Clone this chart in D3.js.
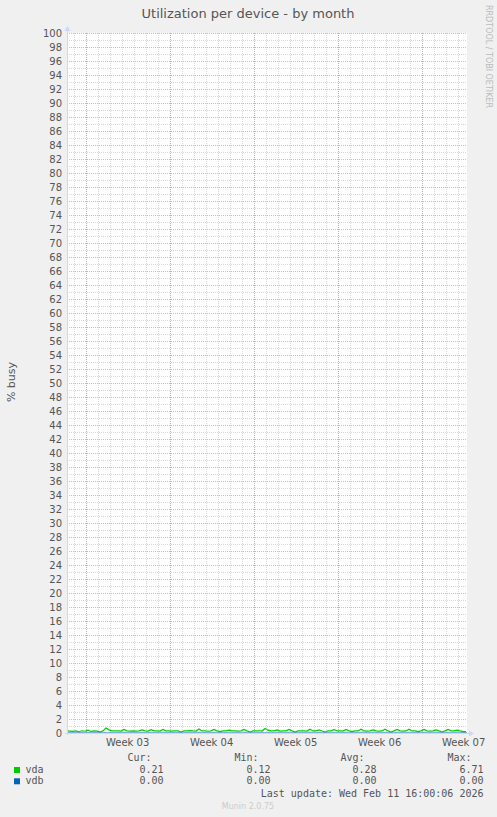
<!DOCTYPE html>
<html>
<head>
<meta charset="utf-8">
<script src="https://cdn.jsdelivr.net/npm/d3@7"></script>
<style>
  html, body { margin: 0; padding: 0; background: #f0f0f0; }
  svg { display: block; }
  text { font-family: "DejaVu Sans", sans-serif; fill: #555; }
  .mono { font-family: "DejaVu Sans Mono", monospace; }
</style>
</head>
<body>
<svg id="chart" width="497" height="817"></svg>
<script>
// graph window (utc)
var startTime = new Date('2026-01-10T10:40:00Z');
var endTime = new Date('2026-02-12T18:40:00Z');
var stepHours = 6;

var yTicks = d3.range(0, 101, 2);
var weekLabels = ['Week 03', 'Week 04', 'Week 05', 'Week 06', 'Week 07'];

// vda busy %, one sample every 6 hours from startTime
var vdaValues = [
  0.30, 0.28, 0.22, 0.30, 0.18, 0.32, 0.25, 0.40, 0.22, 0.30, 0.26, 0.15, 0.30, 0.70, 0.45, 0.30, 0.32,
  0.30, 0.28, 0.50, 0.30, 0.28, 0.30, 0.27, 0.30, 0.45, 0.30, 0.28, 0.48, 0.30, 0.30, 0.28, 0.52, 0.30,
  0.30, 0.28, 0.30, 0.30, 0.15, 0.30, 0.30, 0.35, 0.30, 0.28, 0.58, 0.30, 0.30, 0.25, 0.30, 0.50, 0.30,
  0.20, 0.30, 0.30, 0.42, 0.30, 0.30, 0.28, 0.30, 0.50, 0.30, 0.15, 0.30, 0.30, 0.32, 0.28, 0.65, 0.40,
  0.30, 0.30, 0.45, 0.28, 0.30, 0.30, 0.52, 0.30, 0.15, 0.30, 0.32, 0.30, 0.28, 0.55, 0.30, 0.30, 0.45,
  0.28, 0.15, 0.30, 0.30, 0.48, 0.30, 0.30, 0.28, 0.50, 0.30, 0.20, 0.30, 0.30, 0.55, 0.30, 0.28, 0.30,
  0.45, 0.30, 0.28, 0.30, 0.55, 0.30, 0.15, 0.30, 0.50, 0.30, 0.28, 0.30, 0.55, 0.30, 0.30, 0.20, 0.30,
  0.50, 0.30, 0.28, 0.30, 0.45, 0.30, 0.15, 0.30, 0.52, 0.30, 0.30, 0.40, 0.30, 0.21, 0.21
];
// vdb stays flat at zero
var vdbTimes = [startTime, endTime];
var vdbValues = [0.00, 0.00];

var seriesNames = ['vda', 'vdb'];
var seriesColors = ['#00cc00', '#0066b3'];
var statHeaders = ['Cur:', 'Min:', 'Avg:', 'Max:'];
var statValues = [
  ['0.21', '0.12', '0.28', '6.71'],
  ['0.00', '0.00', '0.00', '0.00']
];
var lastUpdate = 'Last update: Wed Feb 11 16:00:06 2026';

var plotLeft = 67, plotRight = 467, plotTop = 33, plotBottom = 733;
var svg = d3.select('#chart');

var x = d3.scaleUtc().domain([startTime, endTime]).range([plotLeft, plotRight]);
var y = d3.scaleLinear().domain([0, 100]).range([plotBottom, plotTop]);

svg.append('rect')
  .attr('x', plotLeft).attr('y', plotTop)
  .attr('width', plotRight - plotLeft).attr('height', plotBottom - plotTop)
  .attr('fill', '#fff');

var grid = svg.append('g').attr('shape-rendering', 'crispEdges');
var minorColor = '#d8d8d8', majorColor = '#eb9a9a';

// minor grid: every day / every 1 %
grid.selectAll('line.vminor')
  .data(d3.utcDay.range(startTime, endTime).filter(function(d) { return d.getUTCDay() !== 1; }))
  .enter().append('line')
  .attr('x1', function(d) { return Math.round(x(d)) + 0.5; })
  .attr('x2', function(d) { return Math.round(x(d)) + 0.5; })
  .attr('y1', plotTop).attr('y2', plotBottom)
  .attr('stroke', minorColor).attr('stroke-dasharray', '1,1');

grid.selectAll('line.hminor')
  .data(d3.range(1, 100, 2))
  .enter().append('line')
  .attr('x1', plotLeft).attr('x2', plotRight)
  .attr('y1', function(d) { return Math.round(y(d)) + 0.5; })
  .attr('y2', function(d) { return Math.round(y(d)) + 0.5; })
  .attr('stroke', minorColor).attr('stroke-dasharray', '1,1');

// major grid: weeks / labelled values
var weekStarts = d3.utcMonday.range(startTime, endTime);
grid.selectAll('line.hmajor')
  .data(yTicks.filter(function(d) { return d > 0; }))
  .enter().append('line')
  .attr('x1', plotLeft).attr('x2', plotRight)
  .attr('y1', function(d) { return Math.round(y(d)) + 0.5; })
  .attr('y2', function(d) { return Math.round(y(d)) + 0.5; })
  .attr('stroke', '#ebb0b0').attr('stroke-dasharray', '1,1');

grid.selectAll('line.vmajor')
  .data(weekStarts)
  .enter().append('line')
  .attr('x1', function(d) { return Math.round(x(d)) + 0.5; })
  .attr('x2', function(d) { return Math.round(x(d)) + 0.5; })
  .attr('y1', plotTop).attr('y2', plotBottom + 2)
  .attr('stroke', majorColor).attr('stroke-dasharray', '1,1');

// series
var vdaLine = d3.line()
  .x(function(d, i) { return x(d3.utcHour.offset(startTime, i * stepHours)); })
  .y(function(d) { return y(d); });

svg.append('path')
  .datum(vdaValues)
  .attr('d', vdaLine)
  .attr('fill', 'none')
  .attr('stroke', seriesColors[0])
  .attr('stroke-width', 1.2);

var vdbLine = d3.line()
  .x(function(d, i) { return x(vdbTimes[i]); })
  .y(function(d) { return y(d); });

svg.append('path')
  .datum(vdbValues)
  .attr('d', vdbLine)
  .attr('fill', 'none')
  .attr('stroke', seriesColors[1])
  .attr('stroke-width', 1);

// axes + arrows
var axisColor = '#cfd6f8';
svg.append('line')
  .attr('x1', plotLeft - 2).attr('x2', plotRight + 3)
  .attr('y1', plotBottom + 0.5).attr('y2', plotBottom + 0.5)
  .attr('stroke', axisColor).attr('shape-rendering', 'crispEdges');
svg.append('line')
  .attr('x1', plotLeft + 0.5).attr('x2', plotLeft + 0.5)
  .attr('y1', plotBottom + 2).attr('y2', plotTop - 3)
  .attr('stroke', axisColor).attr('shape-rendering', 'crispEdges');
svg.append('path')
  .attr('d', 'M' + (plotRight + 2) + ',' + (plotBottom - 2.5) + 'L' + (plotRight + 7) + ',' + (plotBottom + 0.5) + 'L' + (plotRight + 2) + ',' + (plotBottom + 3.5) + 'Z')
  .attr('fill', axisColor);
svg.append('path')
  .attr('d', 'M' + (plotLeft - 2.5) + ',' + (plotTop - 2) + 'L' + (plotLeft + 0.5) + ',' + (plotTop - 7) + 'L' + (plotLeft + 3.5) + ',' + (plotTop - 2) + 'Z')
  .attr('fill', axisColor);

// y tick labels
svg.selectAll('text.ylab')
  .data(yTicks)
  .enter().append('text')
  .attr('x', 62)
  .attr('y', function(d) { return y(d) + 3.6; })
  .attr('text-anchor', 'end')
  .attr('font-size', 10)
  .text(function(d) { return d; });

// week labels, centred in each week
svg.selectAll('text.xlab')
  .data(weekStarts)
  .enter().append('text')
  .attr('x', function(d) { return x(d3.utcHour.offset(d, 84)); })
  .attr('y', 746)
  .attr('text-anchor', 'middle')
  .attr('font-size', 10)
  .text(function(d, i) { return weekLabels[i]; });

// titles
svg.append('text')
  .attr('x', 248).attr('y', 18)
  .attr('text-anchor', 'middle')
  .attr('font-size', 13)
  .text('Utilization per device - by month');

svg.append('text')
  .attr('transform', 'translate(15,382) rotate(-90)')
  .attr('text-anchor', 'middle')
  .attr('font-size', 11)
  .text('% busy');

svg.append('text')
  .attr('transform', 'translate(485.5,5) rotate(90)')
  .attr('font-size', 8)
  .style('fill', '#bbb')
  .text('RRDTOOL / TOBI OETIKER');

// legend
var colEnds = [151.5, 258.5, 364.5, 471.5];
svg.selectAll('text.head')
  .data(statHeaders)
  .enter().append('text')
  .attr('class', 'mono')
  .attr('x', function(d, i) { return colEnds[i]; })
  .attr('y', 761)
  .attr('text-anchor', 'end')
  .attr('font-size', 10)
  .text(function(d) { return d; });

var rows = svg.selectAll('g.row')
  .data(seriesNames)
  .enter().append('g')
  .attr('transform', function(d, i) { return 'translate(0,' + (773 + i * 11.3) + ')'; });

rows.append('rect')
  .attr('x', 14).attr('y', -6)
  .attr('width', 6).attr('height', 6)
  .attr('fill', function(d, i) { return seriesColors[i]; });

rows.append('text')
  .attr('class', 'mono')
  .attr('x', 25.5).attr('y', 0)
  .attr('font-size', 10)
  .text(function(d) { return d; });

rows.each(function(d, i) {
  d3.select(this).selectAll('text.val')
    .data(statValues[i])
    .enter().append('text')
    .attr('class', 'mono')
    .attr('x', function(v, j) { return colEnds[j] + 12; })
    .attr('y', 0)
    .attr('text-anchor', 'end')
    .attr('font-size', 10)
    .text(function(v) { return v; });
});

svg.append('text')
  .attr('class', 'mono')
  .attr('x', 483.5).attr('y', 796.7)
  .attr('text-anchor', 'end')
  .attr('font-size', 10)
  .text(lastUpdate);

svg.append('text')
  .attr('x', 248).attr('y', 808.5)
  .attr('text-anchor', 'middle')
  .attr('font-size', 8)
  .style('fill', '#ccc')
  .text('Munin 2.0.75');
</script>
</body>
</html>
